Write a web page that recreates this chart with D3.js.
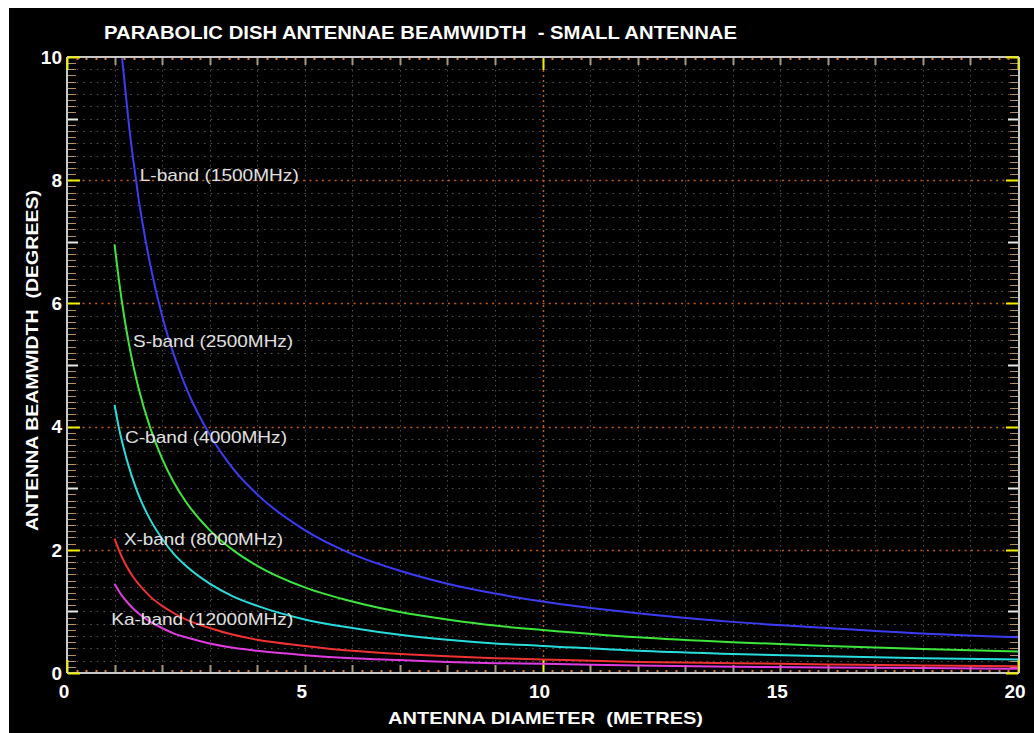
<!DOCTYPE html>
<html>
<head>
<meta charset="utf-8">
<script src="https://cdn.jsdelivr.net/npm/d3@7"></script>
<style>
  html, body { margin: 0; padding: 0; background: #fff; }
  svg text { font-family: "Liberation Sans", Arial, sans-serif; white-space: pre; }
</style>
</head>
<body>
<div id="canvas"></div>
<script>
// diameter samples (metres) and beamwidth (degrees)
var diameters = [1, 1.1, 1.2, 1.3, 1.4, 1.5, 1.75, 2, 2.25, 2.5, 3, 3.5, 4, 5, 6, 7, 8, 9, 10, 12, 14, 16, 18, 20];
var lBand  = [12.0, 10.5, 9.67, 8.92, 8.29, 7.73, 6.63, 5.8, 5.16, 4.64, 3.87, 3.31, 2.9, 2.32, 1.93, 1.66, 1.45, 1.29, 1.16, 0.97, 0.83, 0.73, 0.64, 0.58];
var sBand  = [6.96, 6.33, 5.8, 5.35, 4.97, 4.64, 3.98, 3.48, 3.09, 2.78, 2.32, 1.99, 1.74, 1.39, 1.16, 0.99, 0.87, 0.77, 0.7, 0.58, 0.5, 0.44, 0.39, 0.35];
var cBand  = [4.35, 3.95, 3.63, 3.35, 3.11, 2.9, 2.49, 2.18, 1.93, 1.74, 1.45, 1.24, 1.09, 0.87, 0.73, 0.62, 0.54, 0.48, 0.44, 0.36, 0.31, 0.27, 0.24, 0.22];
var xBand  = [2.18, 1.98, 1.81, 1.67, 1.55, 1.45, 1.24, 1.09, 0.97, 0.87, 0.73, 0.62, 0.54, 0.44, 0.36, 0.31, 0.27, 0.24, 0.22, 0.18, 0.16, 0.14, 0.12, 0.11];
var kaBand = [1.45, 1.32, 1.21, 1.12, 1.04, 0.97, 0.83, 0.73, 0.64, 0.58, 0.48, 0.41, 0.36, 0.29, 0.24, 0.21, 0.18, 0.16, 0.15, 0.12, 0.1, 0.09, 0.08, 0.07];

var bandNames = ['L-band (1500MHz)', 'S-band (2500MHz)', 'C-band (4000MHz)', 'X-band (8000MHz)', 'Ka-band (12000MHz)'];
var bandValues = [lBand, sBand, cBand, xBand, kaBand];
var bandColors = ['#3c3cf4', '#3ce63c', '#28dcdc', '#f03232', '#e03ce0'];
// label anchor points in data units (diameter, beamwidth)
var labelAt = [[1.53, 8.08], [1.39, 5.39], [1.22, 3.83], [1.2, 2.18], [0.93, 0.88]];
var labelLen = [159, 160, 162, 159, 182];

var xTicks = [0, 5, 10, 15, 20];
var yTicks = [0, 2, 4, 6, 8, 10];

var W = 1034, H = 733;
var svg = d3.select('#canvas').append('svg')
  .attr('width', W)
  .attr('height', H);

svg.append('rect').attr('x', 9).attr('y', 8).attr('width', W - 9).attr('height', H - 8).attr('fill', '#000');

var x = d3.scaleLinear().domain([0, 20]).range([67, 1018]);
var y = d3.scaleLinear().domain([0, 10]).range([673, 57]);

var grid = svg.append('g');
// horizontal grid every 0.2
d3.range(1, 50).forEach(function (i) {
  var v = i / 5;
  var major = i % 10 == 0;
  grid.append('line')
    .attr('x1', x(0) + 3).attr('x2', x(20) - 3)
    .attr('y1', Math.round(y(v)) + 0.5).attr('y2', Math.round(y(v)) + 0.5)
    .attr('stroke', major ? '#c85a14' : '#555')
    .attr('stroke-width', major ? 1.5 : 1)
    .attr('stroke-dasharray', major ? '2 4.3' : '1.5 5.2');
});
// vertical grid every 1
d3.range(1, 20).forEach(function (v) {
  var major = v % 10 == 0;
  grid.append('line')
    .attr('y1', y(10) + 3).attr('y2', y(0) - 3)
    .attr('x1', Math.round(x(v)) + 0.5).attr('x2', Math.round(x(v)) + 0.5)
    .attr('stroke', major ? '#c85a14' : '#4a4a4a')
    .attr('stroke-width', major ? 1.5 : 1)
    .attr('stroke-dasharray', major ? '2 3' : '1.5 3.5');
});

// frame
var frame = svg.append('g').attr('stroke', '#c8c8c8').attr('stroke-width', 2);
frame.append('line').attr('x1', x(0)).attr('x2', x(20) + 1).attr('y1', y(0)).attr('y2', y(0));
frame.append('line').attr('x1', x(0)).attr('x2', x(20) + 1).attr('y1', y(10)).attr('y2', y(10));
frame.append('line').attr('x1', x(0)).attr('x2', x(0)).attr('y1', y(10)).attr('y2', y(0));
frame.append('line').attr('x1', x(20) + 1).attr('x2', x(20) + 1).attr('y1', y(10)).attr('y2', y(0));

// ticks on left and right, every 0.1
var ticks = svg.append('g');
d3.range(0, 101).forEach(function (i) {
  var yy = Math.round(y(i / 10)) + 0.5;
  var col = '#a8987a', len = 6;
  if (i % 20 == 0) { col = '#f0f000'; len = 12; }
  else if (i % 10 == 0) { col = '#e8e8e8'; len = 10; }
  [[x(0) + 1, 1], [x(20), -1]].forEach(function (s) {
    ticks.append('line')
      .attr('x1', s[0]).attr('x2', s[0] + s[1] * len)
      .attr('y1', yy).attr('y2', yy)
      .attr('stroke', col).attr('stroke-width', i % 10 == 0 ? 2 : 1);
    if (i % 10 != 0) {
      ticks.append('rect')
        .attr('x', s[1] > 0 ? s[0] + len : s[0] - len - 2).attr('y', yy - 0.5)
        .attr('width', 2).attr('height', 1).attr('fill', '#d8782c');
    }
  });
});
// ticks on bottom and top, every 1, dots every 0.2
d3.range(0, 101).forEach(function (i) {
  var xx = Math.round(x(i / 5)) + 0.5;
  [[y(0) - 1, -1], [y(10) + 1, 1]].forEach(function (s) {
    if (i % 5 == 0) {
      var major = i % 50 == 0;
      var len = major ? 12 : 7;
      ticks.append('line')
        .attr('x1', xx).attr('x2', xx)
        .attr('y1', s[0]).attr('y2', s[0] + s[1] * len)
        .attr('stroke', major ? '#f0f000' : '#a8987a').attr('stroke-width', 2);
    } else {
      ticks.append('rect')
        .attr('x', xx - 1).attr('y', s[1] > 0 ? s[0] : s[0] - 2)
        .attr('width', 2).attr('height', 2).attr('fill', '#d8782c');
    }
  });
});

// curves
svg.append('clipPath').attr('id', 'plotclip')
  .append('rect').attr('x', x(0) + 1).attr('y', y(10) + 1)
  .attr('width', x(20) - x(0) - 1).attr('height', y(0) - y(10) - 2);

var line = d3.line()
  .x(function (d, i) { return x(diameters[i]); })
  .y(function (d) { return y(d); })
  .curve(d3.curveMonotoneX);

svg.append('g').attr('clip-path', 'url(#plotclip)')
  .selectAll('path').data(bandValues).enter().append('path')
  .attr('d', line)
  .attr('fill', 'none')
  .attr('stroke', function (d, i) { return bandColors[i]; })
  .attr('stroke-width', 2);

// curve labels
svg.append('g').selectAll('text').data(bandNames).enter().append('text')
  .attr('x', function (d, i) { return x(labelAt[i][0]); })
  .attr('y', function (d, i) { return y(labelAt[i][1]); })
  .attr('dy', '0.36em')
  .attr('textLength', function (d, i) { return labelLen[i]; })
  .attr('lengthAdjust', 'spacingAndGlyphs')
  .attr('fill', '#e0e0e0')
  .attr('font-size', 17)
  .text(function (d) { return d; });

// tick labels
svg.append('g').selectAll('text').data(yTicks).enter().append('text')
  .attr('x', 62)
  .attr('y', function (d) { return y(d); })
  .attr('dy', '0.36em')
  .attr('text-anchor', 'end')
  .attr('fill', '#fff')
  .attr('font-weight', 'bold')
  .attr('font-size', 19)
  .text(function (d) { return d; });

svg.append('g').selectAll('text').data(xTicks).enter().append('text')
  .attr('x', function (d) { return x(d) - 3; })
  .attr('y', 698)
  .attr('text-anchor', 'middle')
  .attr('fill', '#fff')
  .attr('font-weight', 'bold')
  .attr('font-size', 19)
  .text(function (d) { return d; });

// titles
svg.append('text')
  .attr('x', 104).attr('y', 39)
  .attr('textLength', 633).attr('lengthAdjust', 'spacingAndGlyphs')
  .attr('fill', '#fff').attr('font-weight', 'bold').attr('font-size', 18)
  .text('PARABOLIC DISH ANTENNAE BEAMWIDTH  - SMALL ANTENNAE');

svg.append('text')
  .attr('x', 388).attr('y', 724)
  .attr('textLength', 315).attr('lengthAdjust', 'spacingAndGlyphs')
  .attr('fill', '#fff').attr('font-weight', 'bold').attr('font-size', 17)
  .text('ANTENNA DIAMETER  (METRES)');

svg.append('text')
  .attr('transform', 'translate(38,531) rotate(-90)')
  .attr('textLength', 341).attr('lengthAdjust', 'spacingAndGlyphs')
  .attr('fill', '#fff').attr('font-weight', 'bold').attr('font-size', 17)
  .text('ANTENNA BEAMWIDTH  (DEGREES)');
</script>
</body>
</html>
